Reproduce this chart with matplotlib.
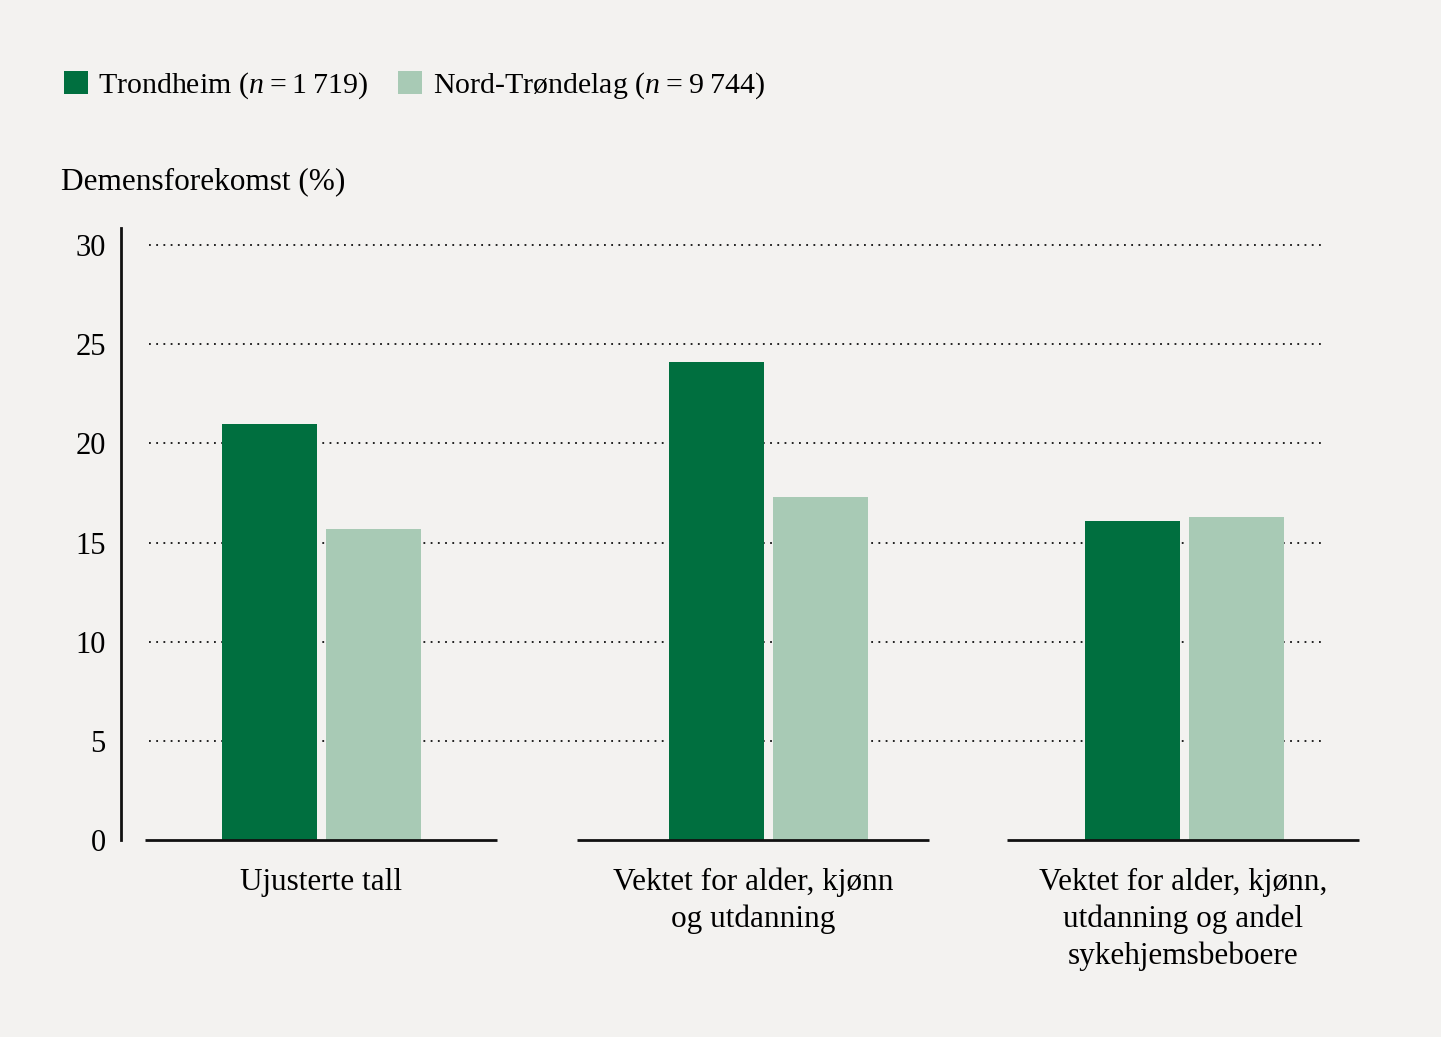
import numpy as np
import matplotlib.pyplot as plt
from matplotlib.patches import Patch

# Data
categories = ["Ujusterte tall",
              "Vektet for alder, kjønn\nog utdanning",
              "Vektet for alder, kjønn,\nutdanning og andel\nsykehjemsbeboere"]
trondheim = [21.0, 24.1, 16.1]
nord_trondelag = [15.7, 17.3, 16.3]
series_labels = ["Trondheim (" + r"$\mathit{n}$" + "\u2009=\u20091\u2009719)",
                 "Nord-Trøndelag (" + r"$\mathit{n}$" + "\u2009=\u20099\u2009744)"]
yticks = [0, 5, 10, 15, 20, 25, 30]

# Layout (pixel-like x units)
bar_centers = [321, 768, 1184]
base_centers = [321, 753, 1183]
bar_w = 95
offset = 52

dark = "#006f3f"
light = "#a8cab5"
bg = "#f3f2f0"

plt.rcParams['font.family'] = ['Liberation Serif', 'DejaVu Serif']
plt.rcParams['mathtext.fontset'] = 'custom'
plt.rcParams['mathtext.it'] = 'Liberation Serif:italic'
plt.rcParams['mathtext.rm'] = 'Liberation Serif'

W, H = 1441, 1037
fig = plt.figure(figsize=(W / 100, H / 100), dpi=100, facecolor=bg)
x0, x1 = 121, 1360
y_top, y_zero = 228, 840
ax = fig.add_axes([x0 / W, 1 - y_zero / H, (x1 - x0) / W, (y_zero - y_top) / H])
ax.set_facecolor(bg)

ymax = 30 * (y_zero - y_top) / (840 - 245)
ax.set_xlim(x0, x1)
ax.set_ylim(0, ymax)

# gridlines
for t in yticks[1:]:
    ax.hlines(t, 149, 1322, colors="#111111", linestyles=(0, (1, 3.0)), linewidth=1.3, zorder=1)

xs = np.array(bar_centers)
ax.bar(xs - offset, trondheim, width=bar_w, color=dark, zorder=2)
ax.bar(xs + offset, nord_trondelag, width=bar_w, color=light, zorder=2)

# baselines under each group
for c in base_centers:
    ax.hlines(0, c - 176, c + 176, colors="#111111", linewidth=2, zorder=3, clip_on=False)

for s in ["top", "right", "bottom"]:
    ax.spines[s].set_visible(False)
ax.spines["left"].set_linewidth(2)
ax.spines["left"].set_color("#111111")

ax.set_yticks(yticks)
ax.set_yticklabels([str(t) for t in yticks], fontsize=22)
ax.tick_params(axis="y", length=0, pad=11)
ax.set_xticks(base_centers)
ax.set_xticklabels(categories, fontsize=22.5, linespacing=1.32, va="top")
ax.tick_params(axis="x", length=0, pad=20)

fig.text(61 / W, 1 - 182 / H, "Demensforekomst (%)", fontsize=22.5, va="center", ha="left")

handles = [Patch(facecolor=dark), Patch(facecolor=light)]
fig.legend(handles, series_labels, loc="center left", bbox_to_anchor=(37 / W, 1 - 86 / H),
           ncol=2, frameon=False, fontsize=21.5, handlelength=0.8, handleheight=0.8,
           handletextpad=0.35, columnspacing=1.0)

fig.savefig("out.png", dpi=100, facecolor=bg)
